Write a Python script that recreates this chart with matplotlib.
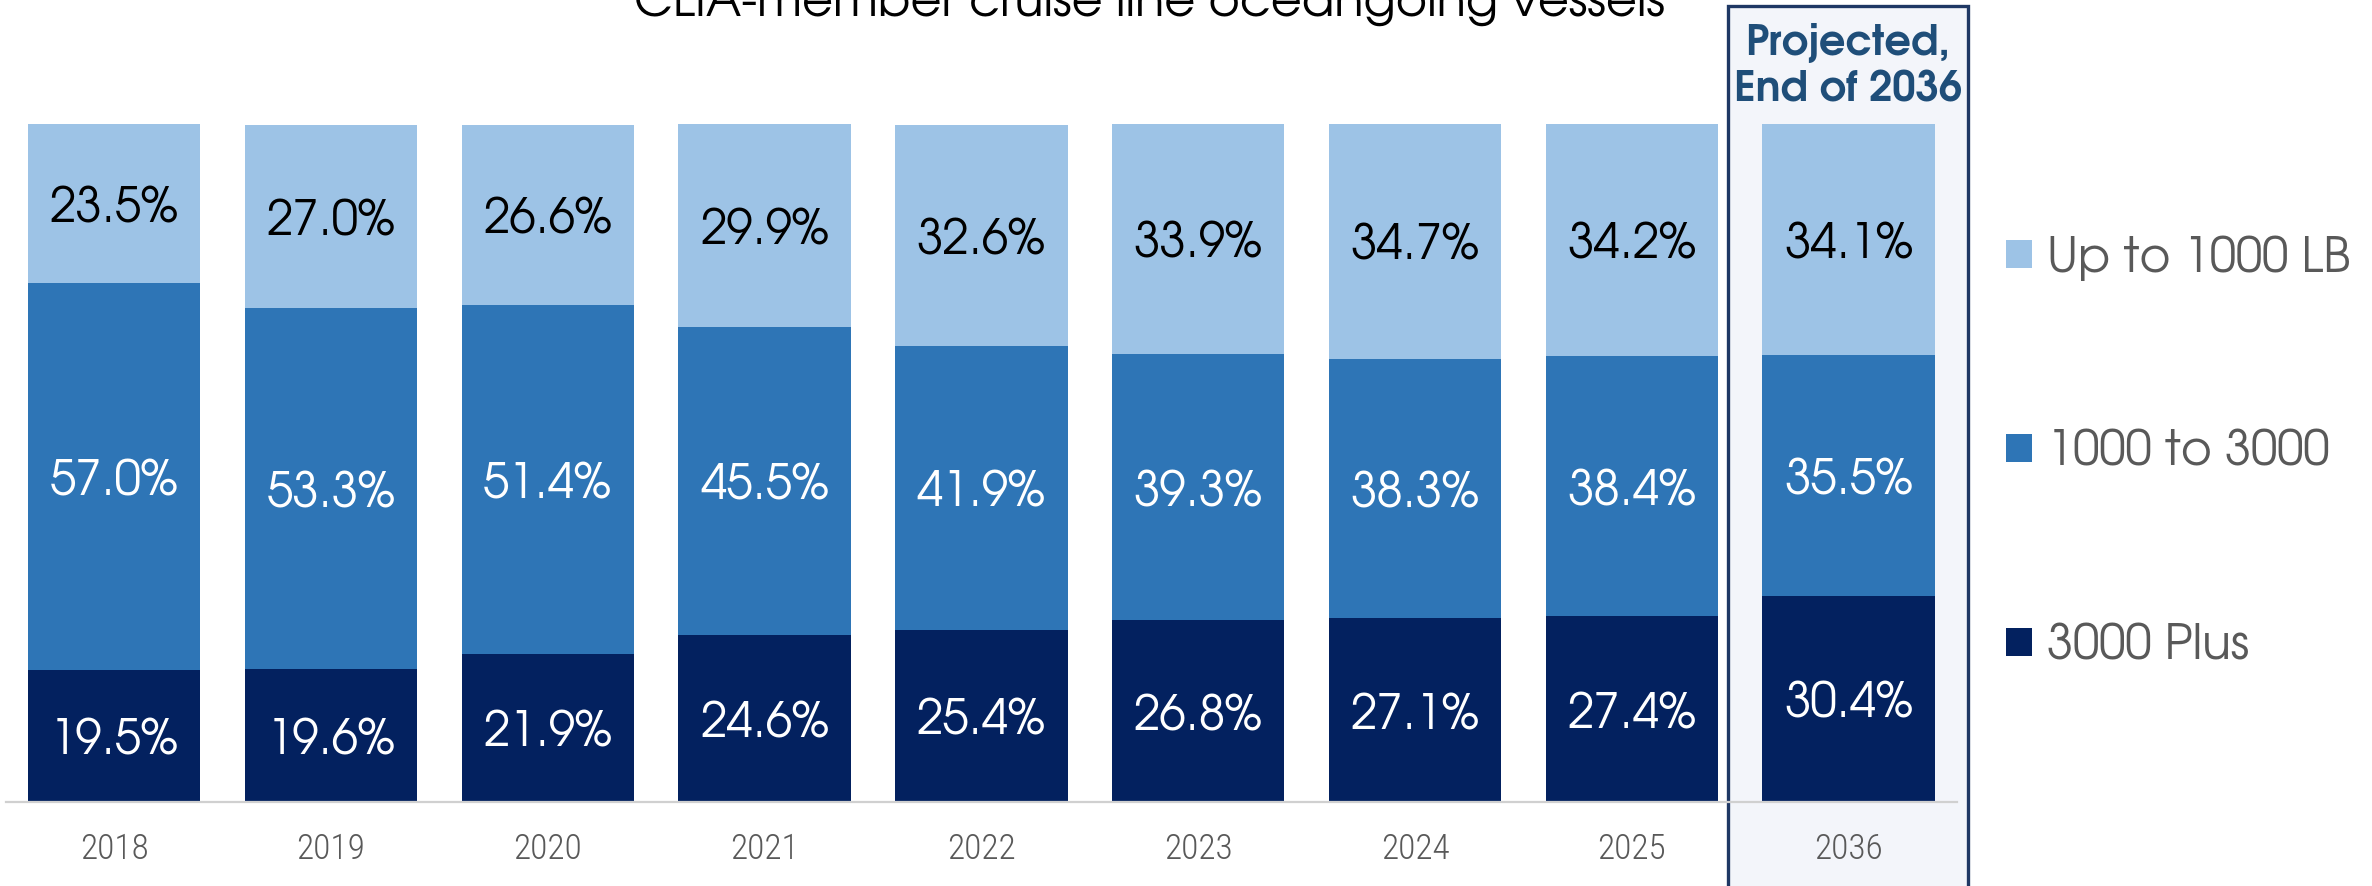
import matplotlib
matplotlib.use("Agg")
import matplotlib.pyplot as plt
from matplotlib.patches import Rectangle, Patch
from matplotlib.font_manager import FontProperties, fontManager
import numpy as np

# ---------------- data ----------------
years = ['2018', '2019', '2020', '2021', '2022', '2023', '2024', '2025', '2036']
plus3000 = [19.5, 19.6, 21.9, 24.6, 25.4, 26.8, 27.1, 27.4, 30.4]
mid1000_3000 = [57.0, 53.3, 51.4, 45.5, 41.9, 39.3, 38.3, 38.4, 35.5]
upto1000 = [23.5, 27.0, 26.6, 29.9, 32.6, 33.9, 34.7, 34.2, 34.1]

series_names = ['3000 Plus', '1000 to 3000', 'Up to 1000 LB']
series_vals = [plus3000, mid1000_3000, upto1000]
colors = ['#03215F', '#2E75B6', '#9DC3E6']
label_colors = ['white', 'white', 'black']

title = 'CLIA-member cruise line oceangoing vessels'
highlight_lines = ['Projected,', 'End of 2036']

# ---------------- fonts ----------------
avail = {f.name for f in fontManager.ttflist}


def _w(v):
    if isinstance(v, (int, float)):
        return v
    m = {'bold': 700, 'semibold': 600, 'demibold': 600, 'heavy': 800, 'black': 900,
         'extra bold': 800, 'ultrabold': 800}
    return m.get(str(v).lower(), 400)


def first(cands, need_bold=False):
    for c in cands:
        if c in avail:
            if not need_bold:
                return c
            if any(f.name == c and _w(f.weight) >= 600 for f in fontManager.ttflist):
                return c
    return 'DejaVu Sans'


gothic = first(['TeX Gyre Adventor', 'URW Gothic', 'URW Gothic L', 'Century Gothic',
                'Didact Gothic', 'Questrial', 'Mulish', 'Muli', 'Lato'])
gothic_bold = first(['TeX Gyre Adventor', 'URW Gothic', 'URW Gothic L', 'Century Gothic',
                     'Mulish', 'Muli', 'Lato', 'Liberation Sans'], need_bold=True)
cond = first(['Tw Cen MT Condensed', 'Roboto Condensed', 'Open Sans Condensed',
              'Fira Sans Condensed', 'Encode Sans Condensed', 'Barlow Condensed',
              'Liberation Sans Narrow', 'Arial Narrow', 'Liberation Sans'])

fp_title = FontProperties(family=[gothic, 'DejaVu Sans'])
fp_year = FontProperties(family=[cond, 'DejaVu Sans'], weight=300)
fp_pct = FontProperties(family=[gothic, 'DejaVu Sans'])
fp_head = FontProperties(family=[gothic_bold, 'DejaVu Sans'], weight='bold')

W, H = 2372, 887
fig = plt.figure(figsize=(W / 100, H / 100), dpi=100)
fig.patch.set_facecolor('white')
renderer = fig.canvas.get_renderer()


def fit(text, fp, target_px):
    t = fig.text(0, 0, text, fontproperties=fp, fontsize=50)
    w = t.get_window_extent(renderer).width
    t.remove()
    return 50 * target_px / w


s_title = fit(title, fp_title, 1032)
s_year = fit('2036', fp_year, 69)
s_pct = fit('30.4%', fp_pct, 129)
s_leg = fit('Up to 1000 LB', FontProperties(family=[gothic, 'DejaVu Sans']), 303)
s_head = fit('Projected,', fp_head, 205)
fp_leg = FontProperties(family=[gothic, 'DejaVu Sans'], size=s_leg)

# ---------------- axes ----------------
ax = fig.add_axes([5.7 / W, (H - 803) / H, (1957 - 5.7) / W, (803 - 125) / H])
ax.set_facecolor('none')
ax.set_zorder(1)

box = Rectangle((1728 / W, -0.02), (1968 - 1728) / W, 1 - 7 / H + 0.02,
                transform=fig.transFigure, facecolor='#F3F5FA',
                edgecolor='#1F3864', linewidth=2.4, zorder=-1)
fig.add_artist(box)

x = np.arange(len(years))
bottom = np.zeros(len(years))
handles = []
for vals, col, lc, name in zip(series_vals, colors, label_colors, series_names):
    vals = np.array(vals)
    ax.bar(x, vals, bottom=bottom, width=0.795, color=col, linewidth=0)
    for xi, b, v in zip(x, bottom, vals):
        ax.text(xi, b + v / 2, f'{v:.1f}%', ha='center', va='center_baseline',
                color=lc, fontproperties=fp_pct, fontsize=s_pct)
    bottom = bottom + vals
    handles.append(Patch(facecolor=col, edgecolor='none', label=name))

ax.set_xlim(-0.5, len(years) - 0.5)
ax.set_ylim(0, 100)
ax.set_xticks(x)
ax.set_xticklabels(years, fontproperties=fp_year, fontsize=s_year, color='#595959',
                   va='baseline')
ax.tick_params(axis='x', length=0, pad=40)
ax.set_yticks([])
for s in ['top', 'right', 'left']:
    ax.spines[s].set_visible(False)
ax.spines['bottom'].set_color('#D0D0D0')
ax.spines['bottom'].set_linewidth(1.6)

# ---------------- texts ----------------
fig.text(1149 / W, 1 - 16 / H, title, ha='center', va='baseline',
         fontproperties=fp_title, fontsize=s_title, color='black')

for line, base in zip(highlight_lines, [55, 102]):
    fig.text(1848 / W, 1 - base / H, line, ha='center', va='baseline',
             fontproperties=fp_head, fontsize=s_head, color='#1F4E79')

# ---------------- legend (one row each) ----------------
fs_px = s_leg * 100 / 72
for h, yc in zip(handles[::-1], [258, 452, 646]):
    lg = fig.legend(handles=[h], loc='center left',
                    bbox_to_anchor=(2006 / W, 1 - yc / H), frameon=False,
                    prop=fp_leg, handlelength=26 / fs_px,
                    handleheight=26 / fs_px, handletextpad=15 / fs_px,
                    borderpad=0, borderaxespad=0)
    for t in lg.get_texts():
        t.set_color('#595959')

fig.savefig('out.png', dpi=100)
